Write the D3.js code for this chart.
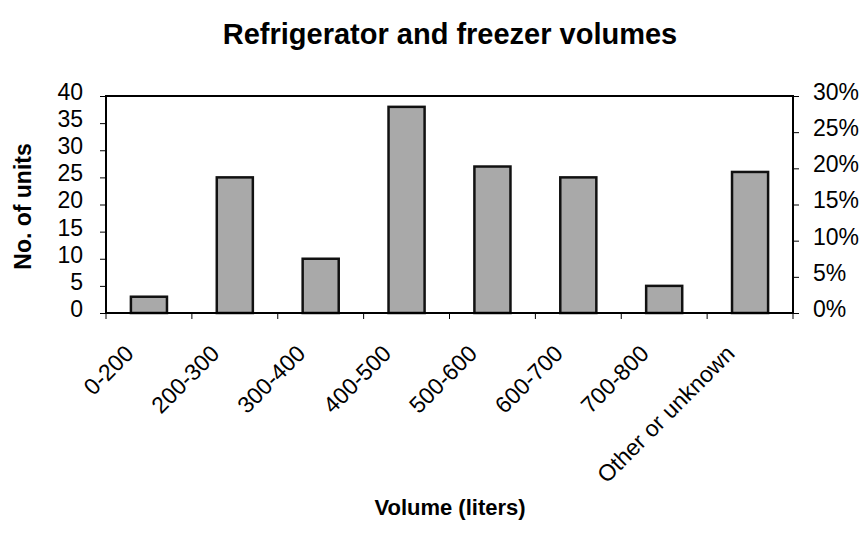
<!DOCTYPE html>
<html>
<head>
<meta charset="utf-8">
<script src="https://cdn.jsdelivr.net/npm/d3@7"></script>
<style>
  body { margin: 0; background: #fff; }
  text { font-family: "Liberation Sans", Arial, sans-serif; fill: #000; }
</style>
</head>
<body>
<div id="chart"></div>
<script>
const categories = ['0-200', '200-300', '300-400', '400-500', '500-600', '600-700', '700-800', 'Other or unknown']
const units = [3, 25, 10, 38, 27, 25, 5, 26]
const leftTicks = [0, 5, 10, 15, 20, 25, 30, 35, 40]
const rightTicks = [0, 0.05, 0.10, 0.15, 0.20, 0.25, 0.30]

const width = 867
const height = 537
const plot = { left: 106, right: 793, top: 96, bottom: 313 }
const font = '"Liberation Sans", Arial, sans-serif'

const svg = d3.select('#chart')
  .append('svg')
  .attr('width', width)
  .attr('height', height)

const x = d3.scaleBand()
  .domain(categories)
  .range([plot.left, plot.right])
  .paddingInner(0.58)
  .paddingOuter(0.29)

const xEdges = d3.scaleLinear()
  .domain([0, categories.length])
  .range([plot.left, plot.right])

const y = d3.scaleLinear().domain([0, 40]).range([plot.bottom, plot.top])
const yPct = d3.scaleLinear().domain([0, 0.30]).range([plot.bottom, plot.top])

// bars
svg.selectAll('rect.bar')
  .data(units)
  .enter()
  .append('rect')
  .attr('class', 'bar')
  .attr('x', (d, i) => x(categories[i]))
  .attr('y', d => y(d))
  .attr('width', x.bandwidth())
  .attr('height', d => y(0) - y(d))
  .attr('fill', '#a9a9a9')
  .attr('stroke', '#111')
  .attr('stroke-width', 2.5)

// plot frame
svg.append('rect')
  .attr('x', plot.left)
  .attr('y', plot.top)
  .attr('width', plot.right - plot.left)
  .attr('height', plot.bottom - plot.top)
  .attr('fill', 'none')
  .attr('stroke', '#000')
  .attr('stroke-width', 2)

// left axis
const leftAxis = svg.append('g')
  .attr('transform', `translate(${plot.left},0)`)
  .call(d3.axisLeft(y).tickValues(leftTicks).tickSize(6).tickPadding(17))
leftAxis.select('.domain').remove()
leftAxis.selectAll('text')
  .attr('font-size', 23)
  .attr('dy', '0.15em')
  .style('font-family', font)

// right axis
const rightAxis = svg.append('g')
  .attr('transform', `translate(${plot.right},0)`)
  .call(d3.axisRight(yPct).tickValues(rightTicks).tickFormat(d3.format('.0%')).tickSize(6).tickPadding(14))
rightAxis.select('.domain').remove()
rightAxis.selectAll('text')
  .attr('font-size', 23)
  .attr('dy', '0.15em')
  .style('font-family', font)

// category boundary ticks
svg.selectAll('line.xtick')
  .data(d3.range(categories.length + 1))
  .enter()
  .append('line')
  .attr('class', 'xtick')
  .attr('x1', d => xEdges(d))
  .attr('x2', d => xEdges(d))
  .attr('y1', plot.bottom)
  .attr('y2', plot.bottom + 6)
  .attr('stroke', '#000')
  .attr('stroke-width', 1)

// category labels
svg.selectAll('text.xlabel')
  .data(categories)
  .enter()
  .append('text')
  .attr('class', 'xlabel')
  .attr('transform', d => `translate(${x(d) + x.bandwidth() / 2 - 14},${plot.bottom + 42}) rotate(-45)`)
  .attr('text-anchor', 'end')
  .attr('font-size', 23)
  .text(d => d)

// title
svg.append('text')
  .attr('x', 450)
  .attr('y', 44)
  .attr('text-anchor', 'middle')
  .attr('font-size', 29)
  .attr('font-weight', 'bold')
  .text('Refrigerator and freezer volumes')

// axis titles
svg.append('text')
  .attr('transform', `translate(31,${(plot.top + plot.bottom) / 2 + 2}) rotate(-90)`)
  .attr('text-anchor', 'middle')
  .attr('font-size', 23)
  .attr('font-weight', 'bold')
  .text('No. of units')

svg.append('text')
  .attr('x', 450)
  .attr('y', 515)
  .attr('text-anchor', 'middle')
  .attr('font-size', 22)
  .attr('font-weight', 'bold')
  .text('Volume (liters)')
</script>
</body>
</html>
